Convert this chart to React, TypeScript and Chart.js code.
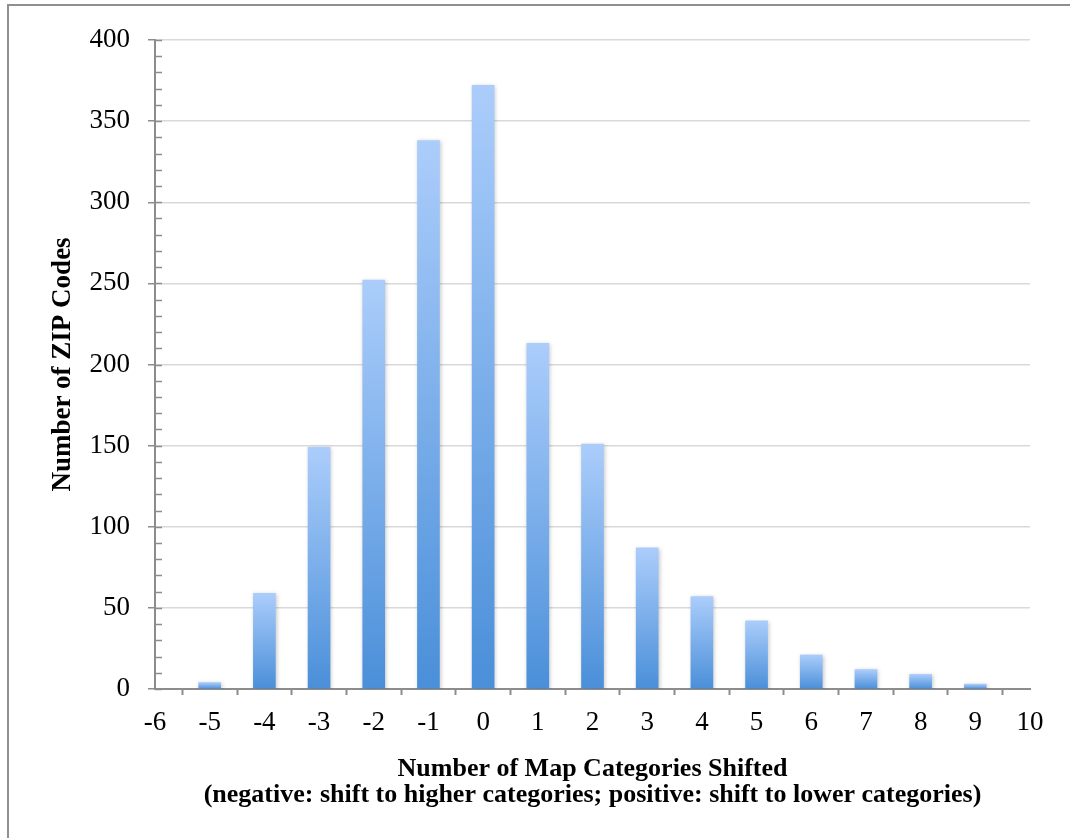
import React, { useEffect, useRef } from "react";
import { Chart, registerables } from "chart.js";

Chart.register(...registerables);

const categories: number[] = [-5, -4, -3, -2, -1, 0, 1, 2, 3, 4, 5, 6, 7, 8, 9];
const zipCounts: number[] = [4, 59, 149, 252, 338, 372, 213, 151, 87, 57, 42, 21, 12, 9, 3];
const xRange: number[] = [-6, 10];
const yRange: number[] = [0, 400];
const yTitle = "Number of ZIP Codes";
const xTitleLines: string[] = [
  "Number of Map Categories Shifted",
  "(negative: shift to higher categories; positive: shift to lower categories)",
];

const AXIS = "#8c8c8c";
const GRID = "#d9d9d9";
const W = 1070;
const H = 838;

const framePlugin = {
  id: "frame",
  beforeDraw(chart: any) {
    const c = chart.ctx;
    c.save();
    c.fillStyle = "#ffffff";
    c.fillRect(0, 0, W, H);
    c.fillStyle = "#8f8f8f";
    c.fillRect(7, 4, 2, H - 4);
    c.fillRect(7, 4, W - 7, 2);
    c.restore();
  },
};

const shadowPlugin = {
  id: "barShadow",
  beforeDatasetsDraw(chart: any) {
    const c = chart.ctx;
    c.save();
    c.shadowColor = "rgba(0,0,0,0.22)";
    c.shadowBlur = 4;
    c.shadowOffsetX = 1;
    c.shadowOffsetY = 1;
  },
  afterDatasetsDraw(chart: any) {
    chart.ctx.restore();
  },
};

const minorTicksPlugin = {
  id: "minorTicks",
  afterDraw(chart: any) {
    const c = chart.ctx;
    const y = chart.scales.y;
    const x0 = chart.chartArea.left;
    c.save();
    c.strokeStyle = AXIS;
    c.lineWidth = 1.5;
    for (let v = yRange[0]; v <= yRange[1]; v += 10) {
      const py = Math.round(y.getPixelForValue(v)) + 0.5;
      c.beginPath();
      c.moveTo(x0, py);
      c.lineTo(x0 + 7, py);
      c.stroke();
    }
    c.restore();
  },
};

export default function App() {
  const ref = useRef<HTMLCanvasElement | null>(null);

  useEffect(() => {
    if (!ref.current) return;
    const data = categories.map((c, i) => ({ x: c, y: zipCounts[i] }));
    const chart = new Chart(ref.current, {
      type: "bar",
      data: {
        datasets: [
          {
            data: data as any,
            barThickness: 22,
            borderWidth: 0,
            backgroundColor: (ctx: any) => {
              const ch = ctx.chart;
              if (!ch.chartArea || ctx.type !== "data" || !ctx.parsed) return "#6fa6e6";
              const ys = ch.scales.y;
              const top = ys.getPixelForValue(ctx.parsed.y);
              const base = ys.getPixelForValue(0);
              if (!isFinite(top) || !isFinite(base) || top === base) return "#6fa6e6";
              const g = ch.ctx.createLinearGradient(0, top, 0, base);
              g.addColorStop(0, "#abcdfb");
              g.addColorStop(1, "#4a8fd9");
              return g;
            },
          },
        ],
      },
      options: {
        animation: false,
        responsive: false,
        devicePixelRatio: 1,
        layout: { padding: { left: 0, right: 40, top: 40, bottom: 0 } },
        plugins: {
          legend: { display: false },
          tooltip: { enabled: false },
        },
        scales: {
          x: {
            type: "linear",
            min: xRange[0],
            max: xRange[1],
            offset: false,
            ticks: {
              stepSize: 1,
              color: "#000",
              padding: 12,
              font: { family: "'Liberation Serif', serif", size: 27 },
            },
            grid: {
              drawOnChartArea: false,
              drawTicks: true,
              tickLength: 6,
              tickColor: AXIS,
              tickWidth: 2,
            },
            border: { display: true, color: AXIS, width: 2 },
            title: {
              display: true,
              text: xTitleLines,
              color: "#000",
              font: { family: "'Liberation Serif', serif", size: 26, weight: "bold", lineHeight: 1.0 },
              padding: { top: 0, bottom: 30 },
            },
            afterFit: (scale: any) => {
              scale.height = 149;
            },
          },
          y: {
            min: yRange[0],
            max: yRange[1],
            ticks: {
              stepSize: 50,
              color: "#000",
              padding: 18,
              font: { family: "'Liberation Serif', serif", size: 27 },
            },
            grid: {
              color: GRID,
              lineWidth: 1.5,
              drawTicks: true,
              tickLength: 7,
              tickColor: AXIS,
              tickWidth: 1.5,
            },
            border: { display: true, color: AXIS, width: 2 },
            title: {
              display: true,
              text: yTitle,
              color: "#000",
              font: { family: "'Liberation Serif', serif", size: 27, weight: "bold" },
              padding: { top: 47, bottom: 0 },
            },
            afterFit: (scale: any) => {
              scale.width = 155;
            },
          },
        },
      } as any,
      plugins: [framePlugin, shadowPlugin, minorTicksPlugin],
    });
    return () => chart.destroy();
  }, []);

  return (
    <div style={{ position: "absolute", left: 0, top: 0, width: W, height: H }}>
      <canvas ref={ref} width={W} height={H} style={{ display: "block" }} />
    </div>
  );
}
